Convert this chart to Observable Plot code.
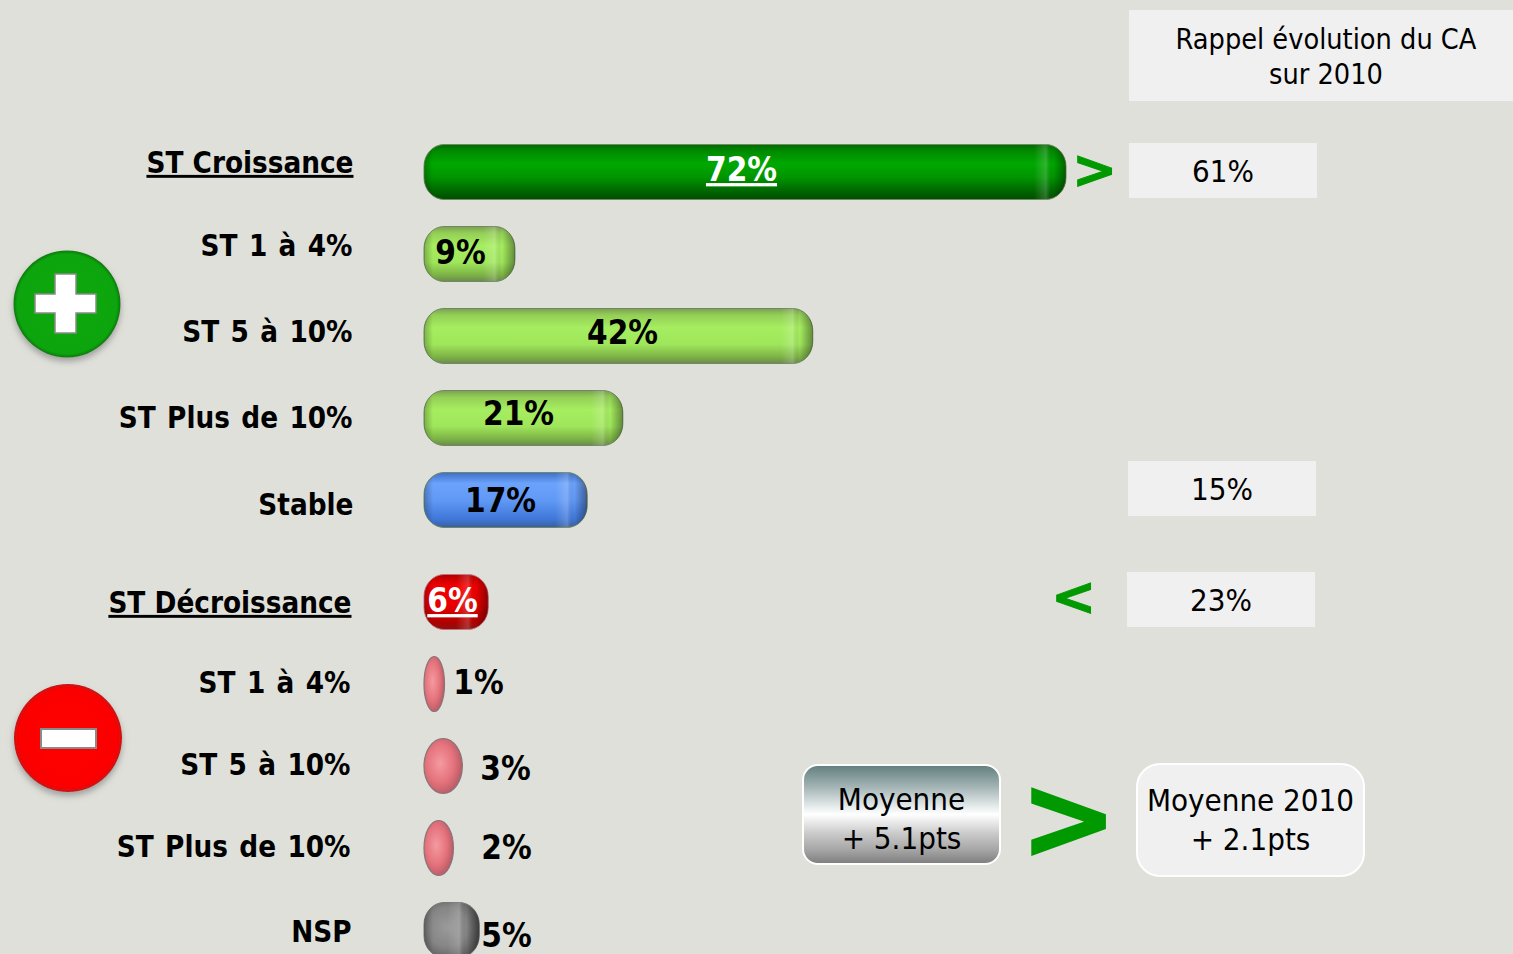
<!DOCTYPE html>
<html lang="fr"><head><meta charset="utf-8">
<script src="https://cdn.jsdelivr.net/npm/d3@7"></script>
<script src="https://cdn.jsdelivr.net/npm/@observablehq/plot@0.6"></script>
<style>
html,body{margin:0;padding:0;background:#dfe0da;overflow:hidden}
#stage{position:relative;width:1513px;height:954px;overflow:hidden;font-family:"DejaVu Sans Condensed","DejaVu Sans",sans-serif;color:#000}
#stage svg{display:block}
.box{position:absolute;background:#f0f0f0;display:flex;align-items:center;justify-content:center;text-align:center;font-size:31px;line-height:35px;box-sizing:border-box}
.arrow{position:absolute;color:#009900;font-weight:bold;line-height:1;font-family:"DejaVu Sans",sans-serif;-webkit-text-stroke-color:#009900}
#overlay{position:absolute;left:0;top:0}
</style></head><body><div id="stage"></div>
<script>
// Data
const categories = ["ST Croissance","ST 1 à 4%","ST 5 à 10%","ST Plus de 10%","Stable","ST Décroissance","ST 1 à 4%","ST 5 à 10%","ST Plus de 10%","NSP"];
const valueLabels = ["72%","9%","42%","21%","17%","6%","1%","3%","2%","5%"];
// drawn bar lengths as they measure in the picture, in % units
const barLengths = [72,10.2,43.6,22.3,18.3,7.2,2.3,4.3,3.3,6.2];
const families = ["dark","light","light","light","blue","red","pink","pink","pink","gray"];
const underlined = [true,false,false,false,false,true,false,false,false,false];
const reminder = [{label:"61%"},{label:"15%"},{label:"23%"}];
const headerLines = "Rappel évolution du CA<br>sur 2010";
const averageNow = "Moyenne<br>+ 5.1pts";
const average2010 = "Moyenne 2010<br>+ 2.1pts";

// Layout (pixels)
const W = 1513, H = 954;
const rowGap = 20 / 82;
const rows = categories.map((c,i)=>({
  i, category:c, label:valueLabels[i], len:barLengths[i], family:families[i], under:underlined[i],
  pos: i < 5 ? i : i + rowGap
}));
const half = 27.5/82;
const labelRight = [-71,-72,-72,-72,-71,-73,-74,-74,-74,-73];
const labelDy    = [-9,-8,-4,0,5,1,-1,-1,-1,2];
const valueX     = [317,36,198,94,76,28,54,81,82,82];
const valueDy    = [-2,-1,-3,-4,1,-1,-1,3,0,5.5];

const stops = {
  dark:[[0,"#006a00"],[.12,"#008a00"],[.35,"#00a800"],[.6,"#009500"],[.88,"#006000"],[1,"#004f00"]],
  light:[[0,"#7d9f55"],[.12,"#93cf56"],[.35,"#a6ee60"],[.65,"#9fe65b"],[.88,"#7cb345"],[1,"#6c8a4e"]],
  blue:[[0,"#3f6fc8"],[.2,"#6ba2fb"],[.5,"#6199f6"],[.85,"#3f77d8"],[1,"#3a5ea0"]],
  red:[[0,"#b00000"],[.2,"#f00000"],[.55,"#e80000"],[.85,"#b40000"],[1,"#8c1010"]]
};
const textFont = "'DejaVu Sans Condensed','DejaVu Sans',sans-serif";

const plot = Plot.plot({
  width:W, height:H, margin:0,
  style:{background:"transparent",overflow:"hidden"},
  x:{domain:[0,72],range:[424,1066],axis:null},
  y:{domain:[0,9+rowGap],range:[172,172+82*(9+rowGap)],axis:null},
  color:{type:"identity"},
  marks:[
    Plot.rect(rows.filter(d=>d.family!=="pink"),{
      x1:()=>0,x2:"len",y1:d=>d.pos-half,y2:d=>d.pos+half,rx:20,ry:22,
      fill:d=>`url(#fill-${d.family})`,stroke:d=>d.family==="gray"?"#777":d.family==="red"?"#c8707a":"#6f8a60",strokeWidth:1
    }),
    Plot.rect(rows.filter(d=>d.family!=="pink"),{
      x1:()=>0,x2:"len",y1:d=>d.pos-half,y2:d=>d.pos+half,rx:20,ry:22,
      fill:d=>`url(#end-${d.i})`
    }),
    Plot.rect(rows.filter(d=>d.family==="pink"),{
      x1:()=>0,x2:"len",y1:d=>d.pos-half,y2:d=>d.pos+half,rx:30,ry:28,
      fill:"url(#fill-pink)",stroke:"#8a7478",strokeWidth:1.2
    }),
    ...rows.map(d=>Plot.text([d],{
      x:()=>0,y:"pos",text:"category",textAnchor:"end",dx:labelRight[d.i],dy:labelDy[d.i],
      fontSize:29.3,fontWeight:"bold",fontFamily:textFont,fill:"#000"
    })),
    ...rows.map(d=>Plot.text([d],{
      x:()=>0,y:"pos",text:"label",textAnchor:"middle",dx:valueX[d.i],dy:valueDy[d.i],
      fontSize:33,fontWeight:"bold",fontFamily:textFont,
      fill:d.family==="dark"||d.family==="red"?"#fff":"#000"
    }))
  ]
});
const stage = document.getElementById("stage");
stage.appendChild(plot);
const svg = d3.select(plot);

// underline headings and their values; open up the sub-category labels
const underTexts = new Set(rows.filter(d=>d.under).flatMap(d=>[d.category,d.label]));
svg.selectAll("text").filter(function(){return underTexts.has(this.textContent)}).style("text-decoration","underline");
svg.selectAll("text").filter(function(){return /^ST \d|^ST Plus/.test(this.textContent)}).style("word-spacing","2.2px");

// gradients
const defs = svg.insert("defs",":first-child");
Object.entries(stops).forEach(([k,s])=>{
  const g=defs.append("linearGradient").attr("id","fill-"+k).attr("x1",0).attr("x2",0).attr("y1",0).attr("y2",1);
  s.forEach(([o,c])=>g.append("stop").attr("offset",o).attr("stop-color",c));
});
const rg=(id,a,b,c)=>{const g=defs.append("radialGradient").attr("id",id).attr("cx",.42).attr("cy",.45).attr("r",.6);
  g.append("stop").attr("offset",0).attr("stop-color",a);g.append("stop").attr("offset",.6).attr("stop-color",b);g.append("stop").attr("offset",1).attr("stop-color",c);};
rg("fill-pink","#f59aa0","#e4727c","#b45a64");
rg("fill-gray","#9a9a9a","#858585","#5f5f5f");
const pxPerUnit=(1066-424)/72;
rows.forEach(d=>{
  const w=d.len*pxPerUnit;
  const g=defs.append("linearGradient").attr("id","end-"+d.i);
  const p=v=>Math.max(0,Math.min(1,v/w));
  [[0,"#000",.25],[9,"#000",0],[w-32,"#fff",0],[w-20,"#fff",.18],[w-13,"#000",0],[w-6,"#000",.22],[w,"#000",.4]]
   .forEach(([o,c,a])=>g.append("stop").attr("offset",p(o)).attr("stop-color",c).attr("stop-opacity",a));
});

// annotation layer
function box(html,l,t,w,h,extra){const e=document.createElement("div");e.className="box";e.innerHTML=html;
  Object.assign(e.style,{left:l+"px",top:t+"px",width:w+"px",height:h+"px"},extra||{});stage.appendChild(e);return e;}
box(headerLines,1129,10,394,91,{fontSize:"28.6px",paddingTop:"2px"});
box(reminder[0].label,1129,143,188,55,{paddingTop:"2px"});
box(reminder[1].label,1128,461,188,55,{paddingTop:"2px"});
box(reminder[2].label,1127,572,188,55,{paddingTop:"2px"});
box(averageNow,802,764,199,101,{borderRadius:"16px",border:"2px solid #fff",fontSize:"31px",lineHeight:"39px",paddingTop:"8px",
  background:"linear-gradient(#64807f 0%,#a5b5b6 22%,#e6ecec 42%,#ffffff 50%,#c9c9c9 70%,#a9a9a9 85%,#808080 100%)"});
box(average2010,1136,763,229,114,{borderRadius:"24px",border:"2px solid #fff",fontSize:"31px",lineHeight:"39px"});
function arrow(t,l,top,size,stroke){const e=document.createElement("div");e.className="arrow";e.textContent=t;
  Object.assign(e.style,{left:l+"px",top:top+"px",fontSize:size+"px",webkitTextStrokeWidth:stroke+"px"});stage.appendChild(e);}
arrow(">",1072,143,54,1);
arrow("<",1051,570,54,1);
arrow(">",1020,760,116,2);

// plus and minus buttons
const ov=d3.select(stage).append("svg").attr("id","overlay").attr("width",W).attr("height",H);
const od=ov.append("defs");
const btn=(id,a,b,c)=>{const g=od.append("radialGradient").attr("id",id);
  g.append("stop").attr("offset",0).attr("stop-color",a);g.append("stop").attr("offset",.93).attr("stop-color",b);g.append("stop").attr("offset",1).attr("stop-color",c);};
btn("btnG","#0aa80a","#09a509","#067a06");btn("btnR","#ff0000","#fb0000","#c01818");
const sh=od.append("filter").attr("id","sh").attr("x","-20%").attr("y","-20%").attr("width","140%").attr("height","150%");
sh.append("feDropShadow").attr("dx",0).attr("dy",4).attr("stdDeviation",3).attr("flood-color","#777").attr("flood-opacity",.6);
ov.append("circle").attr("cx",67).attr("cy",304).attr("r",53.5).attr("fill","url(#btnG)").attr("filter","url(#sh)");
ov.append("circle").attr("cx",68).attr("cy",738).attr("r",54).attr("fill","url(#btnR)").attr("filter","url(#sh)");
ov.append("path").attr("d","M55 274H76V294H96V313H76V333H55V313H35V294H55Z").attr("fill","#fff").attr("stroke","#8a8a8a").attr("stroke-width",1.5);
ov.append("rect").attr("x",41).attr("y",729).attr("width",55).attr("height",19).attr("fill","#fff").attr("stroke","#8a8a8a").attr("stroke-width",2);
</script></body></html>
